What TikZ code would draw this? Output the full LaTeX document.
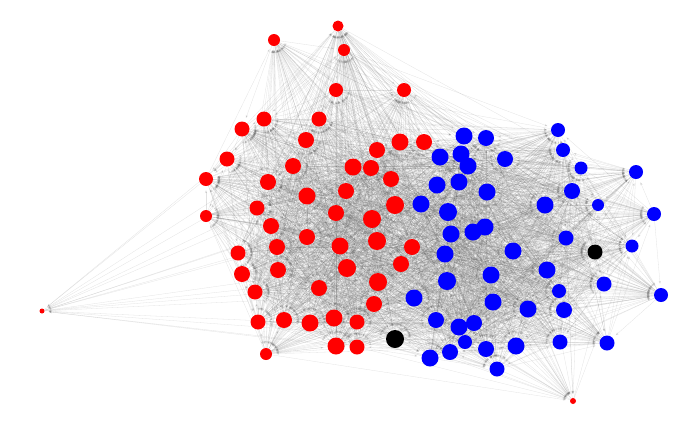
\documentclass[tikz,border=0pt]{standalone}
\usetikzlibrary{backgrounds,arrows.meta}
\definecolor{nred}{RGB}{255,0,0}
\definecolor{nblue}{RGB}{0,0,255}
\definecolor{nblack}{RGB}{0,0,0}
\tikzset{
  vert/.style={circle,inner sep=0pt,minimum size=#1},
  edge/.style={draw=black!60,opacity=0.19,line width=0.3pt,shorten >=4pt,
    -{Stealth[length=3pt,width=2.2pt]}}
}
\begin{document}
\begin{tikzpicture}[x=1pt,y=-1pt]
  \useasboundingbox (0,0) rectangle (700,432);
  % vertices: x/y/colour/size/group/weight
  \foreach \x/\y/\c/\d/\g/\w [count=\i] in {
      338/26/nred/11/1/1, 274/40/nred/12/1/1, 344/50/nred/12/1/1, 336/90/nred/14/1/1,
      404/90/nred/14/1/1, 264/119/nred/15/1/1, 242/129/nred/15/1/1, 319/119/nred/15/1/1,
      306/140/nred/16/1/1, 227/159/nred/15/1/1, 293/166/nred/16/1/1, 377/150/nred/16/1/1,
      400/142/nred/17/1/1, 424/142/nred/16/1/1, 353/167/nred/17/1/1, 371/168/nred/16/1/1,
      206/179/nred/14/1/1, 268/182/nred/16/1/1, 391/179/nred/16/1/1, 307/196/nred/17/1/1,
      346/191/nred/16/1/1, 395/205/nred/18/1/1, 257/208/nred/15/1/1, 206/216/nred/12/1/1,
      336/213/nred/16/1/1, 372/219/nred/18/1/1, 271/226/nred/16/1/1, 307/237/nred/16/1/1,
      377/241/nred/18/1/1, 340/246/nred/17/1/1, 412/247/nred/16/1/1, 277/247/nred/16/1/1,
      238/253/nred/15/1/1, 242/274/nred/16/1/1, 278/270/nred/16/1/1, 347/268/nred/18/1/1,
      401/264/nred/16/1/1, 378/282/nred/18/1/1, 319/288/nred/16/1/1, 255/292/nred/15/1/1,
      374/304/nred/16/1/1, 258/322/nred/15/1/1, 284/320/nred/16/1/1, 310/323/nred/17/1/1,
      334/318/nred/17/1/1, 357/322/nred/15/1/1, 336/346/nred/17/1/1, 357/347/nred/15/1/1,
      266/354/nred/12/1/1, 42/311/nred/5/1/0.35, 573/401/nred/6/2/0.4,
      395/339/nblack/18/3/1, 595/252/nblack/15/3/1,
      464/136/nblue/17/2/1, 486/138/nblue/16/2/1, 558/130/nblue/14/2/1, 440/157/nblue/17/2/1,
      461/154/nblue/17/2/1, 468/166/nblue/17/2/1, 505/159/nblue/16/2/1, 563/150/nblue/14/2/1,
      581/168/nblue/13/2/1, 636/172/nblue/14/2/1, 437/185/nblue/17/2/1, 459/182/nblue/17/2/1,
      487/192/nblue/17/2/1, 572/191/nblue/16/2/1, 545/205/nblue/17/2/1, 598/205/nblue/12/2/1,
      654/214/nblue/14/2/1, 421/204/nblue/17/2/1, 448/212/nblue/18/2/1, 451/234/nblue/17/2/1,
      473/232/nblue/17/2/1, 485/227/nblue/17/2/1, 566/238/nblue/15/2/1, 632/246/nblue/13/2/1,
      445/254/nblue/17/2/1, 513/251/nblue/17/2/1, 547/270/nblue/17/2/1, 491/275/nblue/17/2/1,
      447/281/nblue/18/2/1, 604/284/nblue/15/2/1, 661/295/nblue/14/2/1, 414/298/nblue/17/2/1,
      493/302/nblue/17/2/1, 528/309/nblue/17/2/1, 559/291/nblue/14/2/1, 564/310/nblue/16/2/1,
      436/320/nblue/16/2/1, 459/327/nblue/17/2/1, 474/323/nblue/16/2/1, 465/342/nblue/14/2/1,
      450/352/nblue/16/2/1, 430/358/nblue/17/2/1, 486/349/nblue/16/2/1, 516/346/nblue/17/2/1,
      560/342/nblue/15/2/1, 607/343/nblue/15/2/1, 497/369/nblue/15/2/1} {
    \node[vert=\d pt,fill=\c] (n\i) at (\x,\y) {};
    \expandafter\xdef\csname grp\i\endcsname{\g}
    \expandafter\xdef\csname wt\i\endcsname{\w}
  }
  % edges
  \pgfmathsetseed{4711}
  \begin{scope}[on background layer]
    \foreach \i in {1,...,99} {
      \pgfmathtruncatemacro\k{\i+1}
      \foreach \j in {\k,...,100} {
        \edef\gi{\csname grp\i\endcsname}\edef\gj{\csname grp\j\endcsname}
        \edef\wi{\csname wt\i\endcsname}\edef\wj{\csname wt\j\endcsname}
        \pgfmathsetmacro\pr{\wi*\wj*ifthenelse(\gi==\gj,0.8,ifthenelse(\gi==3 || \gj==3,0.7,0.4))}
        \pgfmathtruncatemacro\hit{rnd<\pr}
        \pgfmathtruncatemacro\dir{rnd<0.5}
        \ifnum\hit=1
          \ifnum\dir=1 \draw[edge] (n\i) -- (n\j); \else \draw[edge] (n\j) -- (n\i); \fi
        \fi
      }
    }
  \end{scope}
\end{tikzpicture}
\end{document}
